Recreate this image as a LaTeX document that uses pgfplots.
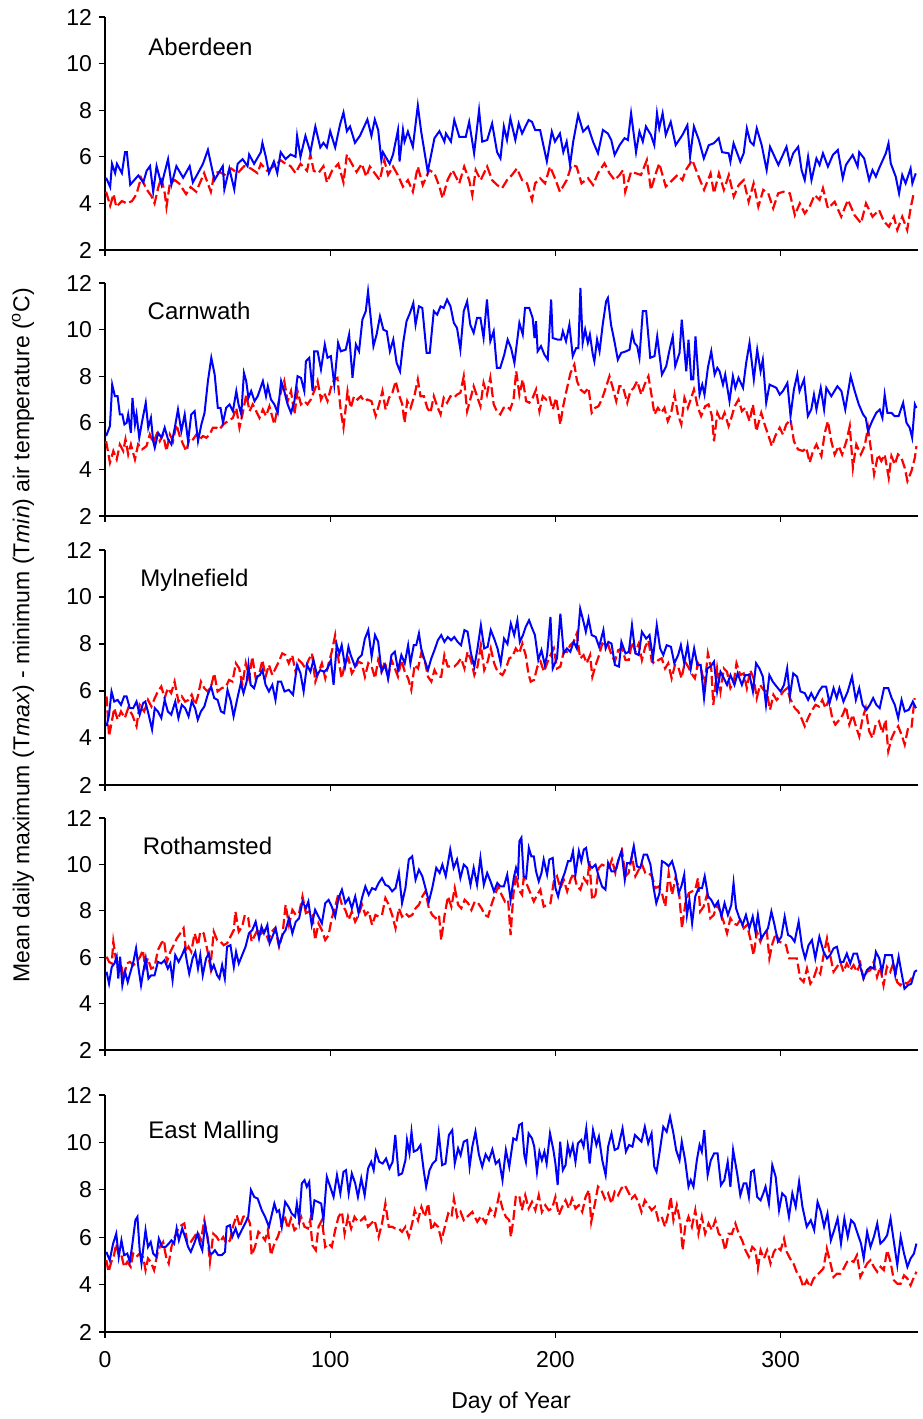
\documentclass[border=0pt]{standalone}
\usepackage{fontspec}
\setmainfont{Liberation Sans}
\usepackage{pgfplots}
\pgfplotsset{compat=1.18}
\pgfplotsset{
  panel/.style={
    scale only axis, width=406.5pt,
    xmin=0, xmax=361, ymin=2, ymax=12,
    xtick={0,100,200,300}, ytick={2,4,6,8,10,12},
    axis lines*=left, tick align=outside, major tick length=3pt,
    axis line style={line width=0.6pt, black},
    tick style={line width=0.6pt, black},
    tick label style={font=\fontsize{11.5}{13.8}\selectfont},
    /pgf/number format/assume math mode=true,
    xticklabel style={yshift=-3pt},
    anchor=north west,
  },
  tb/.style={draw=blue, line width=1pt, mark=none},
  tr/.style={draw=red, line width=1.1pt, mark=none, dash pattern=on 5pt off 2pt},
}
\tikzset{nm/.style={anchor=west, inner sep=0pt, font=\fontsize{12}{14}\selectfont}}
\begin{document}
\begin{tikzpicture}
\path[use as bounding box] (-52.5pt,0pt) rectangle (408.5pt,-709.5pt);

% ---------------- Aberdeen
\begin{axis}[panel, at={(0pt,-8.5pt)}, height=116.5pt, xticklabels={}]
\addplot[tr] coordinates {(0.5,4.5)(2.3,3.9)(3.8,4.4)(5,3.85)(7.5,4.1)(9.7,4.0)(12,4.1)(14,4.4)(16,5.1)(18.5,4.6)(20.7,4.3)(22,4.0)(23.7,4.7)(25,5.1)(26.6,4.4)(27.3,3.85)(28.8,4.85)(31,5.0)(33,4.85)(36,4.4)(38,4.7)(40.5,4.5)(42.7,5.0)(44,5.3)(47,4.5)(48.6,5.3)(50.8,5.35)(53.7,5.2)(56,5.5)(58.9,5.3)(61.8,5.6)(64.7,5.5)(67.7,5.3)(69.2,5.7)(72,5.4)(75,5.6)(78,5.85)(80.2,5.7)(82.4,5.6)(84.6,5.3)(86.8,5.7)(89.7,5.4)(91.2,6.1)(92.7,5.4)(94.8,5.3)(97,5.6)(98.5,4.9)(100.8,5.4)(103.6,5.7)(105.9,4.9)(107.4,6.1)(109.6,5.7)(111.7,5.35)(114,5.7)(116,5.15)(117.6,5.58)(119.8,5.29)(122,5.0)(124,5.86)(125.7,5.22)(127.9,5.58)(130,5.22)(132.3,4.72)(134.5,5.0)(136.7,4.5)(138.9,5.58)(141.1,4.79)(144,5.43)(146.3,5.29)(148.5,4.72)(149.9,4.22)(152.1,5.0)(154.3,5.43)(157.3,4.86)(159.5,5.58)(161.7,5.0)(163.1,4.36)(164.6,5.43)(166.8,5.0)(169.7,5.58)(171.9,5.0)(174.1,4.79)(176.3,4.65)(178.5,5.0)(180.7,5.22)(182.9,5.5)(185.2,5.0)(187.4,4.86)(189.6,4.15)(191,4.86)(193.2,5.08)(195.4,4.86)(197.6,5.58)(199.8,5.08)(202,4.5)(205,5.0)(207.2,5.65)(209.4,5.58)(211.6,4.86)(214.5,5.08)(216.7,4.79)(218.9,5.3)(221.8,5.72)(224,5.29)(226.3,5.0)(228.5,5.22)(230,5.43)(231,4.5)(233.6,5.36)(235.8,5.29)(238,5.22)(240.6,5.86)(242.4,4.58)(244.6,5.29)(246.1,5.72)(249,4.72)(251.2,4.93)(254.2,5.22)(256.4,5.0)(257.9,5.43)(260.8,5.86)(263,5.29)(266,4.58)(268.9,5.29)(270.4,4.43)(272.6,5.29)(274.8,4.58)(277,5.22)(279.2,4.29)(281.4,4.79)(283.6,5.0)(285.8,4.07)(288,4.86)(290.1,3.86)(292.3,4.58)(294.5,4.43)(296.7,3.79)(298.9,4.43)(301.2,4.5)(304.1,4.43)(306.3,3.5)(308.5,4.0)(310.7,3.57)(312.9,3.86)(315.1,4.36)(317.3,4.15)(318.8,4.65)(321,3.79)(324,4.07)(326.9,3.43)(329.9,4.15)(332.8,3.5)(335.7,3.15)(337.9,4.0)(340.8,3.43)(343.7,3.72)(345.9,3.22)(348.1,3.0)(350.3,3.43)(351.8,2.86)(354,3.43)(356.2,2.86)(357.7,3.79)(359.1,4.43)};
\addplot[tb] coordinates {(0.5,5.1)(2.3,4.7)(3.1,5.7)(4.5,5.3)(5.3,5.7)(7.5,5.3)(8.9,6.2)(9.7,6.2)(11.2,4.8)(14.8,5.2)(17,4.9)(18.5,5.4)(20,5.6)(21.4,4.5)(22.9,5.6)(25.1,4.8)(28,5.9)(29.5,4.8)(31.7,5.6)(34.7,5.1)(37.6,5.6)(39,4.9)(41.3,5.3)(43.5,5.7)(45.7,6.3)(48.6,5.0)(52.3,5.6)(53,4.6)(55.2,5.5)(57.4,4.6)(58.9,5.7)(61.1,5.9)(63.3,5.6)(64,6.1)(66.2,5.7)(69.2,6.2)(69.9,6.6)(71.4,6.0)(72.8,5.3)(75,5.8)(76.5,5.3)(78,6.2)(80.2,5.9)(82.4,6.1)(84.6,6.0)(85.3,6.9)(86.8,6.0)(89,6.9)(91.2,6.2)(93.4,7.3)(95.6,6.4)(97,6.6)(98.5,6.4)(100,7.1)(102.2,6.4)(104.4,7.4)(105.9,7.9)(107.4,7.1)(108.8,7.3)(111,6.6)(113.2,6.9)(116.5,7.6)(118.3,6.9)(119.8,7.6)(121.3,7.15)(122.7,5.86)(123.4,6.2)(126.4,5.7)(127.9,6.1)(130.1,7.15)(130.8,5.8)(132.3,7.15)(133,6.65)(134.5,7.08)(136.7,6.43)(138.9,8.2)(140.4,7.08)(143.3,5.36)(146.3,6.8)(148.5,7.1)(150.7,6.65)(151.4,7.0)(153.6,6.65)(155.1,7.58)(157.3,6.86)(160.2,6.86)(161.7,7.5)(163.9,6.15)(166.1,8.0)(167.5,6.65)(169.7,6.72)(171.9,7.43)(174.1,6.2)(175.6,5.93)(177.1,7.3)(178.5,6.72)(180,7.65)(182.2,6.72)(183.7,7.43)(185.2,7.0)(188.1,7.58)(189.6,7.5)(191,7.15)(193.2,7.15)(196.2,5.8)(198.4,7.08)(199.8,6.65)(202,7.0)(203.5,6.2)(205,6.65)(206.5,5.65)(207.9,6.65)(210.1,7.8)(212.3,7.08)(214.5,7.3)(216.7,6.65)(218.9,6.15)(221.1,7.15)(223.3,7.0)(224.8,6.72)(226.3,6.08)(228.5,6.5)(230.7,6.8)(232.2,6.72)(233.6,7.87)(235.8,6.2)(237.3,7.08)(238.8,6.65)(240.2,7.3)(242.4,6.94)(243.9,6.5)(245.1,7.87)(246.1,7.22)(247.6,7.87)(249,6.94)(251.2,7.5)(253.4,6.5)(256.4,6.94)(258.6,7.36)(259.8,6.0)(261.5,7.3)(263.7,6.72)(265.9,5.93)(268.1,6.5)(270.3,6.58)(272.5,6.8)(274,6.2)(276.9,6.15)(277.7,5.79)(279.1,6.58)(282.1,5.79)(283.6,6.15)(285,7.22)(286.5,6.65)(288,6.5)(289.4,7.22)(291.6,6.5)(293.8,5.43)(295.3,6.43)(299,5.65)(302.6,6.43)(304.1,5.72)(305.6,6.15)(307.8,6.43)(309.3,5.43)(310.7,5.0)(312.2,6.0)(313.7,5.0)(315.9,5.93)(317.3,5.65)(318.8,6.15)(321,5.58)(323.2,6.08)(325.4,6.29)(327.6,5.08)(329,5.65)(332,6.08)(334.2,5.58)(334.9,6.2)(337.1,5.93)(339.3,5.0)(340.8,5.43)(342.3,5.15)(343.7,5.5)(346.7,6.15)(347.9,6.58)(348.9,5.72)(351.1,5.15)(352.6,4.43)(354,5.22)(355.5,4.86)(357.7,5.5)(358.5,4.86)(360,5.29)};
\node[nm] at (rel axis cs:0.053,0.871) {Aberdeen};
\end{axis}

% ---------------- Carnwath
\begin{axis}[panel, at={(0pt,-141.5pt)}, height=116.5pt, xticklabels={}]
\addplot[tr] coordinates {(0.5,5.21)(2.2,4.29)(3.7,4.79)(5.2,4.43)(6.6,5.07)(8.1,4.79)(9.1,5.29)(10.3,4.64)(11.5,5.07)(13.3,4.43)(14.7,5.07)(16.5,4.86)(18.4,5.0)(19.9,5.5)(21.4,5.14)(22.9,5.5)(24.3,5.21)(25.8,5.5)(27.3,4.79)(28.8,5.5)(30.2,5.21)(31.7,5.93)(33.2,5.43)(34.7,5.07)(36.1,4.79)(37.6,5.36)(39.1,5.29)(40.6,5.5)(42,5.29)(43.5,5.43)(45,5.36)(46.5,5.5)(47.9,5.79)(49.4,5.79)(50.9,5.71)(52.4,5.93)(54.6,6.07)(56.8,6.21)(58.3,6.64)(59.7,5.79)(61.2,6.43)(62.7,7.21)(64.2,6.5)(65.6,6.79)(67.1,6.5)(68.6,6.21)(70.1,6.57)(71.5,6.29)(73,6.71)(75.2,5.93)(76.7,6.71)(78.2,7.36)(79.6,7.79)(81.1,6.93)(82.6,7.36)(84.1,6.36)(85.5,7.36)(87,6.79)(88.5,6.93)(89.9,6.79)(91.4,7.0)(92.9,7.36)(94.4,7.79)(95.9,7.0)(97.3,7.29)(98.8,6.93)(100.3,7.5)(101.8,7.86)(103.2,7.93)(104.7,6.5)(105.9,5.79)(107.7,7.36)(109.1,6.64)(110.6,7.14)(112.1,7.0)(113.6,7.14)(115,6.93)(116.5,7.0)(118.3,6.93)(120.2,6.29)(121.7,6.79)(123.2,7.36)(124.6,6.57)(126.1,7.07)(127.6,7.29)(129.1,7.79)(130.5,7.21)(132,6.79)(133,6.0)(134.2,6.93)(135.7,6.64)(137.5,7.21)(138.9,7.86)(140.1,7.14)(141.6,7.14)(143.1,6.64)(144.5,6.43)(146,7.14)(147.5,6.71)(149,6.36)(150.4,7.07)(151.9,6.86)(153.4,7.14)(154.9,7.07)(156.3,7.21)(157.8,7.29)(159.3,8.0)(160.8,6.5)(162.2,7.0)(163.7,7.57)(165.2,7.14)(166.7,6.71)(168.1,7.71)(169.6,7.21)(171.1,7.93)(172.6,6.79)(174,6.5)(175.5,6.36)(177,6.64)(178.5,6.71)(179.9,6.57)(181.4,7.0)(182.6,8.21)(184,7.21)(185.5,7.86)(187,6.93)(188.4,6.86)(189.9,7.07)(191.4,7.43)(192.9,6.5)(194.4,7.14)(195.9,7.0)(197.3,7.14)(198.8,6.57)(200.3,7.07)(202.2,5.93)(203.3,6.64)(204.7,7.29)(206.7,8.14)(208.4,8.5)(209.6,7.79)(211.1,7.43)(212.9,7.29)(214.7,7.5)(216.1,6.43)(217.6,6.64)(219.1,6.71)(220.6,7.0)(222.1,7.43)(224,8.0)(225.5,7.5)(227,6.93)(228.4,7.57)(229.9,7.57)(231.9,6.86)(233.3,7.36)(234.8,7.5)(236.3,7.79)(238.1,7.21)(239.6,7.64)(241.3,8.0)(242.5,7.29)(244,6.36)(245.5,6.64)(247,6.43)(248.4,6.64)(249.9,6.07)(251.4,6.43)(252.9,7.21)(254.4,6.36)(255.9,5.93)(257.3,7.07)(258.8,6.64)(260.3,7.07)(261.5,7.43)(263.3,6.64)(264.7,6.29)(266.5,6.71)(268,6.79)(269.5,6.29)(270.4,5.21)(271.9,6.43)(273.6,6.07)(275.1,6.43)(276.9,5.86)(278.1,6.21)(279.6,6.71)(281.3,7.0)(282.8,6.5)(284.3,6.64)(286.2,6.07)(287.7,6.79)(289.2,5.64)(291.4,6.43)(292.9,5.93)(294.4,5.5)(296.1,5.0)(297.6,5.43)(299.6,5.79)(301,5.5)(302.5,5.93)(304.4,6.14)(305.9,5.21)(307.7,4.86)(309.9,4.79)(311.4,4.93)(312.9,4.29)(314.4,4.79)(315.9,5.07)(318.1,4.57)(319.6,5.57)(321,6.07)(322.5,5.21)(324,4.64)(325.8,5.0)(327.3,4.64)(329.2,5.21)(330.7,5.86)(332.1,4.07)(333.6,5.07)(335.6,4.64)(337.3,5.0)(338.8,5.79)(340.3,4.71)(341.5,3.79)(343.3,4.64)(344.7,4.36)(346.2,4.64)(348,3.64)(349.2,4.57)(350.7,4.21)(352.1,4.64)(353.6,4.5)(355.1,4.07)(356.3,3.5)(358.1,3.93)(359.6,4.5)(360.3,5.0)};
\addplot[tb] coordinates {(0.5,5.43)(2.2,5.86)(3.2,7.64)(4.4,7.14)(5.6,7.14)(6.6,6.36)(7.7,6.36)(8.6,5.93)(9.6,6.0)(10.3,6.36)(11.5,5.57)(12.2,7.07)(13.3,5.93)(14,6.36)(15.2,5.36)(16.5,6.07)(18.1,6.86)(19.2,5.79)(20.4,6.21)(21.4,5.21)(22.1,4.93)(23.6,5.57)(25.1,5.36)(26.5,5.79)(28,5.29)(29.5,5.07)(31,5.79)(32.4,6.57)(33.9,5.64)(35.4,6.36)(36.9,5.21)(38.3,6.36)(39.8,6.5)(41.3,5.21)(42.8,5.93)(44.2,6.43)(45.7,7.79)(47.2,8.79)(48.7,8.07)(50.1,6.64)(51.3,6.64)(52.4,6.0)(53.8,6.64)(55.3,6.79)(56.8,6.5)(58.3,7.36)(59.3,6.79)(60.5,6.36)(61.7,8.14)(62.7,7.79)(63.7,7.07)(64.9,7.36)(66.4,6.93)(67.8,7.14)(70.1,7.79)(71.5,7.14)(72.3,7.57)(73.7,7.0)(75.2,6.79)(76.7,6.43)(78.2,7.79)(79.6,7.36)(81.1,6.79)(82.6,6.43)(84.1,6.93)(85.5,8.0)(87,7.93)(88.5,7.36)(89.2,8.64)(90.7,8.79)(92.2,7.36)(92.9,9.07)(94.4,9.07)(95.9,8.29)(97.6,9.36)(98.8,8.79)(100.3,8.86)(101.8,7.64)(103.5,9.43)(104.7,9.07)(106.9,9.14)(108.4,9.79)(109.9,7.93)(111.4,9.36)(112.8,9.07)(114.3,10.43)(115.8,10.79)(116.8,11.64)(118,10.5)(119.2,9.29)(120.6,9.79)(122.1,10.57)(123.6,10.0)(125.1,9.93)(126.5,9.07)(128,9.57)(129.5,8.57)(131,8.21)(132.4,9.43)(133.9,10.36)(135.4,10.71)(136.9,11.14)(137.9,10.21)(139.4,11.0)(140.9,10.93)(142.8,9.0)(144.2,9.0)(146,10.79)(147.5,10.64)(149,11.0)(150.4,10.93)(151.9,11.29)(153.4,11.0)(154.9,10.29)(156.3,10.07)(157.8,9.14)(159.3,10.79)(160.8,11.21)(162.2,10.21)(163.7,9.86)(165.2,10.5)(166.7,10.5)(168.1,9.64)(169.6,11.29)(171.1,9.5)(172.6,9.93)(174,8.36)(175.5,8.36)(177.3,8.93)(178.8,9.57)(180.3,9.21)(181.8,8.57)(184,10.29)(185.5,9.79)(186.5,10.93)(188.4,10.93)(189.9,10.5)(190.7,9.64)(191.4,10.36)(192.1,9.07)(193.6,9.29)(195.1,8.93)(196.6,8.71)(198.1,11.29)(198.8,9.64)(201,9.57)(202.5,9.57)(203.3,9.93)(204.7,9.5)(206.2,10.21)(207.7,8.86)(209.2,9.21)(210.2,9.21)(211.1,11.79)(212.1,9.43)(213.2,10.0)(214.4,9.43)(215.3,9.79)(216.6,8.93)(217.3,8.64)(218.5,9.57)(219.6,9.07)(221,10.21)(222.5,11.21)(223.3,11.36)(224.7,10.21)(226.2,9.5)(227.7,8.71)(229.2,9.0)(231.4,9.07)(232.9,9.14)(234.1,9.86)(235.1,9.43)(236.3,9.29)(237.3,8.79)(238.8,10.79)(240.3,10.79)(242.1,8.79)(244,8.86)(245.2,9.71)(247.3,8.07)(249.2,8.43)(250.7,9.14)(252.1,9.71)(253.2,8.43)(255.1,9.0)(256.1,10.43)(258.1,8.21)(259.1,9.57)(260.3,7.86)(261.2,7.86)(262.2,9.71)(264,7.21)(265.2,7.64)(266.2,7.21)(267.7,8.36)(269.2,9.07)(270.7,8.07)(271.9,8.36)(272.9,8.21)(274.4,7.64)(275.4,8.07)(277.3,6.93)(278.8,8.0)(279.9,7.5)(281.3,7.93)(283.3,7.5)(284.7,8.57)(286.2,9.43)(288.1,7.86)(289.6,9.14)(291.1,8.21)(292.1,8.71)(293.6,6.86)(295.1,7.64)(296.6,7.57)(298.1,7.5)(299.6,7.21)(301,7.36)(303,7.71)(304.4,6.29)(305.9,7.43)(307.4,8.07)(308.4,7.36)(310.4,7.86)(312.1,6.29)(313.6,6.57)(314.8,7.21)(315.9,6.57)(317.8,7.5)(319.3,6.57)(320.3,7.5)(322.5,7.14)(325.2,7.57)(327,7.36)(328.7,6.57)(329.9,7.29)(331.1,8.0)(332.9,7.36)(334.7,6.79)(336.6,6.36)(337.8,6.21)(338.8,5.64)(340.6,6.07)(342.5,6.43)(344,6.57)(345.2,6.21)(346.2,7.21)(347.4,6.43)(349.2,6.43)(350.6,6.29)(352.4,6.29)(354.4,6.86)(355.9,6.0)(357.3,5.79)(358.4,5.36)(359.6,6.79)(360.3,6.64)};
\node[nm] at (rel axis cs:0.052,0.88) {Carnwath};
\end{axis}

% ---------------- Mylnefield
\begin{axis}[panel, at={(0pt,-275pt)}, height=117.5pt, xticklabels={}]
\addplot[tr] coordinates {(0.7,5.77)(1.8,4.07)(2.9,4.64)(4.1,5.27)(5.6,4.78)(7.1,5.13)(8.8,4.85)(10.3,5.27)(12.1,4.99)(14,4.5)(15.4,5.41)(17.4,5.13)(19.1,5.62)(20.6,5.34)(22.1,5.7)(23.5,5.98)(25,6.19)(26.5,5.7)(27.9,6.12)(29.4,5.91)(30.9,6.4)(32.6,5.55)(34.1,5.77)(35.6,5.55)(37.1,5.62)(38.5,5.84)(40,5.41)(41.2,5.77)(42.6,6.4)(44.1,6.12)(45.6,5.98)(47.1,6.19)(48.5,6.75)(50,5.98)(51.8,6.12)(53.7,6.19)(55.1,6.47)(56.6,6.4)(58.1,7.18)(59.6,6.96)(61,6.26)(62.5,7.18)(64,6.54)(65.4,7.46)(66.9,6.54)(68.4,6.68)(69.9,7.32)(71.3,6.61)(72.8,7.11)(74.3,6.68)(75.7,6.96)(77.2,7.25)(78.7,7.6)(80.1,7.53)(81.6,7.18)(83.1,7.53)(84.6,6.82)(86,7.32)(87.5,7.18)(89,6.96)(90.4,7.32)(91.9,7.6)(93.4,6.4)(94.9,6.82)(96.3,7.18)(97.8,6.54)(99.3,7.18)(100.7,7.67)(102.2,8.38)(103.7,7.32)(105.1,6.54)(106.6,7.18)(108.1,7.39)(109.6,6.75)(111,6.96)(112.5,7.25)(114,7.18)(115.4,6.61)(116.9,7.18)(118.4,7.04)(119.9,6.54)(121.3,7.32)(122.8,6.82)(124.3,7.25)(125.7,6.54)(127.2,7.32)(128.7,6.96)(130.1,6.61)(131.6,7.32)(133.1,6.82)(134.6,6.54)(136,6.05)(137.5,7.11)(139,6.96)(140.4,7.6)(141.9,7.32)(143.4,6.61)(144.9,6.4)(146.3,6.89)(147.8,6.61)(149.3,6.61)(150.7,7.53)(152.2,7.04)(153.7,7.04)(155.1,7.04)(156.6,7.18)(158.1,7.39)(159.6,6.96)(161,7.67)(162.5,7.32)(164,6.68)(165.4,7.04)(166.9,7.95)(168.4,6.89)(169.9,7.25)(171.3,7.81)(172.8,7.18)(174.3,6.82)(176.5,6.68)(178,6.96)(179.5,7.39)(180.9,7.46)(182.4,7.81)(183.9,7.6)(185.3,8.02)(186.8,7.53)(188,6.75)(189,6.4)(190.5,6.47)(192,7.04)(193.4,7.25)(194.9,6.82)(196.3,7.18)(197.8,7.53)(199.3,7.81)(200.7,6.96)(202.2,7.04)(203.7,7.67)(205.1,7.67)(206.6,7.95)(208.1,8.09)(209.5,8.45)(211,7.39)(212.5,7.53)(213.9,7.18)(215.4,7.53)(216.4,6.61)(217.9,7.11)(219.4,7.53)(220.8,8.02)(222,7.95)(223.5,7.95)(224.9,7.53)(226.4,7.25)(227.9,7.74)(229.6,7.81)(231.1,7.32)(232.6,7.32)(234,8.09)(235.5,7.67)(237,8.02)(238.4,7.32)(239.9,7.88)(241.3,8.16)(242.8,7.25)(244.3,7.18)(245.7,7.32)(247.2,7.39)(248.7,6.96)(250.1,7.18)(251.6,6.54)(253.1,7.11)(254.5,7.04)(256,6.54)(257.5,7.25)(258.9,7.04)(260.4,6.75)(261.9,6.54)(263.3,7.18)(264.8,6.89)(266.3,6.26)(267.7,7.6)(269.2,6.96)(270.1,5.41)(271.8,6.96)(273.3,5.98)(274.8,6.96)(276.2,6.82)(277.7,6.12)(279.2,6.4)(280.4,7.18)(282.1,6.68)(283.6,6.75)(285,6.12)(286.5,6.89)(288,6.54)(289.4,5.7)(290.9,6.26)(292.4,6.05)(293.8,5.98)(295.3,5.2)(296.8,5.84)(298.2,5.62)(299.7,5.77)(301.2,5.98)(302.9,6.12)(304.1,5.7)(306.3,5.27)(307.8,5.13)(309.2,4.85)(310.7,4.5)(312.2,4.85)(313.6,5.13)(315.5,5.41)(317,5.34)(318.5,5.62)(319.9,5.27)(321.4,5.62)(322.9,4.85)(324.3,4.57)(326.1,4.78)(327.6,4.99)(329,5.34)(330.5,4.57)(332,4.99)(333.4,4.5)(334.9,4.07)(336.4,4.85)(337.8,5.27)(339.3,4.29)(340.8,4.0)(342.2,4.57)(343.7,4.71)(345.2,4.21)(346.6,4.78)(347.8,3.44)(349.3,4.0)(350.7,4.29)(352.2,4.5)(353.7,4.14)(355.1,3.72)(356.6,4.43)(358.1,4.43)(359.5,5.7)};
\addplot[tb] coordinates {(0.7,4.5)(1.8,4.99)(2.9,5.98)(4.1,5.55)(5.6,5.62)(7.1,5.41)(8.5,5.77)(9.6,5.77)(11,5.27)(12.5,5.27)(14,5.55)(15.4,4.99)(16.9,5.48)(17.9,5.55)(19.4,4.99)(20.9,4.36)(22.1,5.27)(23.5,5.13)(25,4.85)(26.5,5.62)(27.9,5.13)(29.4,4.99)(31.2,5.55)(32.6,4.85)(34.1,5.41)(35.6,5.27)(37.1,4.92)(38.5,5.55)(40,5.27)(41.2,4.78)(42.6,5.13)(44.1,5.34)(45.6,5.84)(47.1,6.19)(48.5,5.7)(50,5.62)(51.5,5.13)(52.9,5.06)(54.4,6.05)(55.9,5.55)(57.1,4.92)(58.8,5.7)(60.3,6.33)(61.5,5.91)(62.9,6.4)(63.7,7.11)(64.7,6.26)(66.2,6.12)(67.6,6.61)(68.8,6.68)(69.9,6.89)(71.3,6.26)(72.8,5.98)(74.3,6.26)(75.7,5.62)(76.8,6.4)(78.2,6.4)(79.7,5.98)(81.6,6.05)(83.5,5.84)(85.3,7.11)(86.8,6.75)(88.2,5.98)(89.7,7.11)(91.2,6.82)(92.6,7.32)(94.1,6.68)(95.6,6.89)(97.4,6.82)(98.8,6.96)(100.3,7.32)(101.5,6.26)(102.9,7.95)(104.1,7.6)(105.1,7.95)(106.6,7.04)(108.1,7.88)(109.1,7.53)(111,7.04)(112.5,7.39)(114,7.53)(115.4,8.23)(116.9,8.59)(118.4,7.46)(119.9,8.38)(121.3,8.09)(122.8,6.82)(124.3,7.11)(125.7,6.54)(127.2,7.53)(128.7,7.67)(130.1,6.89)(131.6,7.53)(133.1,7.18)(134.6,7.95)(135.6,7.18)(137.1,7.95)(138.2,7.95)(139.4,8.45)(140.4,7.81)(141.9,7.32)(143.4,6.89)(144.9,7.39)(146.3,7.74)(147.8,8.16)(149.3,8.38)(150.7,8.09)(152.2,8.3)(153.7,8.16)(155.1,8.3)(156.6,8.09)(158.1,7.95)(159.6,8.59)(161,8.52)(162.5,7.6)(164,7.04)(165.4,7.81)(166.9,8.8)(168.4,7.81)(169.9,7.88)(171.3,8.59)(172.8,8.23)(174.3,7.81)(175.7,7.18)(177.2,8.23)(178.7,8.0)(180.2,8.87)(181.7,8.38)(183.1,9.01)(184.2,8.09)(185.6,8.38)(186.8,8.73)(188.3,9.01)(189.4,8.73)(190.9,8.38)(192.4,7.32)(193.8,7.74)(195.3,7.11)(196.3,7.53)(197.8,9.15)(198.8,6.96)(200.7,7.39)(202.2,9.29)(203.7,7.6)(205.1,7.81)(206.6,7.67)(208.1,8.09)(209.5,7.81)(211,9.5)(212.5,8.94)(213.5,8.52)(214.7,9.08)(216.1,8.38)(217.9,8.3)(219.4,7.88)(221.3,8.59)(222.3,7.81)(223.5,8.09)(224.9,8.02)(226.4,7.11)(228.2,7.04)(229.3,8.09)(231.1,7.6)(232.6,7.67)(234,8.8)(235.5,7.6)(237,7.53)(238.4,8.52)(240.3,8.23)(241.8,8.38)(243.3,7.39)(245,8.8)(246.5,7.81)(247.9,7.53)(249.4,7.95)(251.3,7.88)(252.8,7.18)(254.5,7.53)(255.7,7.95)(257.2,7.18)(258.7,7.95)(260.1,6.96)(261.6,7.81)(263,7.11)(264.5,7.11)(266,5.7)(267.4,6.96)(268.9,7.04)(270.4,7.25)(271.8,5.98)(273.3,6.82)(274.8,6.54)(276.2,6.26)(277.7,6.68)(279.5,6.26)(280.9,6.75)(282.8,6.26)(284.3,6.68)(286.2,6.68)(287.7,5.98)(289.1,7.18)(290.6,6.96)(292.1,6.61)(293.5,5.41)(295,6.68)(296.5,6.4)(298.2,6.19)(300,5.98)(301.5,6.26)(302.9,6.96)(304.1,5.77)(305.6,6.75)(307.3,6.61)(308.8,5.98)(310.7,5.91)(312.2,5.62)(313.6,5.91)(315.1,5.62)(317,5.98)(318.5,6.19)(320.2,6.19)(321.7,5.48)(323.5,6.12)(324.9,5.7)(326.1,6.12)(327.9,5.55)(329.8,5.98)(331.7,6.61)(333.4,5.62)(334.9,6.12)(336.4,5.41)(338.1,5.2)(339.6,5.41)(341.1,5.7)(342.5,5.41)(344,5.27)(345.9,6.12)(347.8,6.12)(349.3,5.7)(350.7,5.41)(352.2,4.85)(353.7,5.62)(355.1,5.13)(356.9,5.2)(358.7,5.55)(360.1,5.27)};
\node[nm] at (rel axis cs:0.043,0.872) {Mylnefield};
\end{axis}

% ---------------- Rothamsted
\begin{axis}[panel, at={(0pt,-409pt)}, height=116pt, xticklabels={}]
\addplot[tr] coordinates {(0.7,6.02)(1.8,5.8)(3,5.73)(3.7,6.67)(4.8,5.95)(5.9,5.44)(7.1,5.73)(8.2,5.08)(9.7,5.73)(11.1,5.8)(12.6,5.66)(14.1,5.8)(15.6,6.02)(16.8,6.31)(17.8,5.58)(19,5.95)(20.5,5.51)(22,5.58)(23.5,6.31)(25,6.6)(26.2,6.74)(27.5,5.8)(29,6.23)(30.5,6.52)(31.9,6.81)(33.4,7.03)(34.9,7.25)(36,6.23)(37.1,6.45)(38.3,6.23)(39.8,7.03)(41.3,6.52)(42.3,7.1)(43.8,7.03)(45.3,6.38)(46.8,5.58)(48.3,7.1)(49.8,6.74)(51.3,6.67)(52.7,6.52)(54.2,6.6)(55.7,6.88)(57.2,7.17)(57.9,7.97)(59.4,7.1)(60.9,7.32)(62.1,7.82)(63.6,7.68)(65.1,6.67)(66.6,6.96)(68.1,7.25)(69.5,7.03)(71,7.17)(72.5,6.74)(74,7.1)(75.5,7.25)(77.3,6.45)(78.8,6.96)(80.2,8.26)(81.7,7.39)(83.2,8.04)(84.7,7.82)(86.2,7.9)(87.7,8.62)(89.2,7.9)(90.6,7.97)(92.1,7.82)(93.3,6.74)(94.8,7.46)(96.3,7.17)(97.8,6.74)(99.3,6.96)(100.7,7.68)(102.2,8.18)(103.7,8.76)(105.2,8.26)(106.7,8.04)(108.2,7.61)(109.6,7.97)(111.1,7.53)(112.6,7.82)(114.1,8.26)(115.6,7.82)(117.1,7.97)(118.6,7.39)(120.1,7.82)(121.5,7.75)(123,7.82)(124.5,8.55)(126,8.26)(127.5,7.82)(129,7.25)(130.5,8.11)(131.9,7.75)(133.4,7.9)(134.9,7.75)(136.4,7.82)(137.9,8.11)(139.4,8.26)(140.9,8.62)(142.3,8.84)(143.8,8.11)(145.3,7.82)(146.8,7.68)(148.3,7.82)(149.3,6.74)(150.8,7.82)(152.3,8.62)(153.8,8.18)(155.3,8.98)(156.8,8.26)(158.2,8.11)(159.7,8.47)(161.2,8.33)(162.7,8.04)(164.2,8.4)(165.7,8.33)(167.2,8.11)(168.6,7.82)(170.1,7.75)(171.6,8.26)(173.1,8.69)(174.6,9.05)(176.1,8.69)(177.6,8.4)(179,8.47)(180.1,6.96)(181.3,8.69)(182.5,9.56)(183.7,8.91)(185.2,8.69)(185.9,9.41)(187.4,9.12)(188.9,8.76)(190.4,8.4)(191.9,8.69)(193.3,8.91)(194.8,8.18)(196.3,8.26)(197.8,8.33)(199.3,9.27)(200.7,9.49)(202.2,8.98)(203.7,9.34)(205.2,8.84)(206.7,9.34)(208.1,9.63)(209.6,9.05)(211.1,8.91)(212.6,9.41)(214.1,9.2)(215.1,10.14)(216.3,8.47)(217.8,8.69)(219.2,9.85)(220.7,9.99)(222.2,9.92)(223.7,9.85)(225.1,10.21)(226.6,9.63)(228.1,10.21)(229.6,10.57)(231.1,9.49)(232.5,9.63)(234,10.35)(235.5,9.49)(237,9.77)(238.5,9.99)(239.9,9.63)(241.4,9.63)(242.9,9.49)(244.4,8.98)(245.9,9.05)(247.3,8.76)(248.8,8.18)(250.3,9.63)(251.8,8.69)(253.3,9.41)(254.7,9.05)(256.2,7.25)(257.7,8.33)(259.2,8.76)(260.7,8.84)(262.1,8.91)(263.3,9.41)(264.3,7.97)(265.8,8.18)(267.3,8.69)(268.8,7.68)(270.3,7.82)(271.7,8.26)(273.2,7.97)(274.7,7.53)(276.2,7.03)(277.7,7.68)(279.1,7.46)(280.6,7.39)(282.1,7.61)(283.6,7.25)(285.1,7.39)(286.5,6.81)(288,6.09)(289.5,7.1)(291,6.67)(292.5,7.03)(293.9,7.1)(295,5.95)(296.4,6.6)(297.9,7.03)(299.4,6.67)(300.9,6.6)(302.4,6.52)(303.8,5.95)(305.3,5.95)(307.2,5.95)(308.7,5.08)(310.2,4.93)(311.7,5.51)(313.2,4.86)(314.6,5.08)(316.1,5.51)(317.6,5.29)(319.1,6.09)(320.6,6.81)(322,6.09)(323.5,5.37)(325,5.58)(326.5,5.8)(327.9,5.37)(329.4,5.73)(330.9,5.44)(332.4,5.66)(333.9,5.37)(335.4,5.73)(336.8,5.08)(338.3,5.37)(339.8,5.44)(341.3,5.8)(342.8,5.15)(344.2,5.58)(345.7,4.79)(347.2,5.58)(348.7,5.37)(350.2,5.8)(351.7,4.93)(353.1,4.79)(354.6,4.93)(356.1,4.86)(357.6,5.01)(359,5.22)};
\addplot[tb] coordinates {(0.7,5.37)(1.8,4.86)(3,5.58)(4.2,5.73)(5.2,6.02)(5.9,5.08)(6.7,6.02)(7.7,4.79)(8.9,5.37)(10.1,4.93)(11.1,5.29)(12.6,5.8)(13.8,6.38)(14.9,5.51)(16,4.79)(17.1,5.44)(18.1,5.95)(19.3,5.08)(20.5,5.22)(22,5.22)(23.5,5.8)(25,5.73)(26.4,5.87)(27.9,5.51)(29,5.73)(30,5.01)(31.2,6.09)(32.7,5.8)(34.2,6.09)(35.4,6.38)(36.4,5.8)(37.4,5.29)(38.9,5.95)(40.1,6.23)(41.3,5.51)(42.3,6.09)(43.4,5.22)(44.9,5.95)(46.1,6.16)(47.3,5.44)(48.3,5.66)(49.8,5.22)(50.8,5.08)(52,5.66)(53.2,5.08)(54.2,6.45)(55.7,6.52)(57.2,5.58)(58.2,6.23)(59.4,5.73)(60.9,6.09)(62.4,6.45)(63.9,7.03)(65.4,7.17)(66.9,7.53)(68.4,6.81)(69.5,7.32)(70.6,7.03)(72.1,7.39)(73.1,6.6)(74.3,6.88)(75.8,7.25)(77.3,6.52)(78.8,6.96)(80.2,7.17)(81.7,7.68)(83.2,7.03)(84.7,7.53)(86.2,7.68)(87.7,8.4)(89.2,8.11)(90.3,8.4)(91.8,7.39)(93.3,8.04)(94.8,7.75)(96.3,7.46)(97.8,8.33)(99.3,8.47)(100.7,8.18)(102.2,7.75)(103.7,8.55)(105.2,8.91)(106.7,8.33)(108.2,8.55)(109.6,8.11)(111.1,8.62)(112.6,7.9)(114.1,8.55)(115.6,9.05)(117.1,8.69)(118.6,8.98)(120.1,8.91)(121.5,9.2)(123,9.41)(124.5,9.12)(126,9.05)(127.5,8.84)(129,8.98)(130.5,9.63)(131.9,8.33)(133.4,8.98)(134.9,10.21)(136.4,10.35)(137.9,9.34)(139.4,9.77)(140.9,9.49)(142.3,8.98)(143.8,8.4)(145.3,8.98)(147.1,9.85)(148.6,9.63)(149.8,9.99)(151.3,9.49)(153.3,10.64)(154.8,9.85)(156.3,10.21)(157.8,9.41)(159.3,9.99)(160.8,9.85)(162.3,9.12)(163.7,9.85)(165.2,9.12)(166.7,10.28)(168.2,9.12)(169.7,9.63)(171.2,9.27)(172.7,8.84)(174.2,9.2)(175.6,9.05)(177.1,9.05)(178.6,9.56)(180.1,8.47)(181.5,9.41)(182.5,9.85)(183.4,9.56)(184,11.0)(184.9,11.15)(185.9,9.49)(187,9.41)(188.2,10.71)(189.3,10.35)(190.4,10.35)(191.4,9.7)(192.6,9.27)(193.8,9.63)(194.8,10.21)(196.3,9.56)(197.3,10.21)(198.8,10.28)(200,8.98)(201.2,8.62)(202.7,9.27)(204.1,9.63)(205.6,10.14)(206.7,10.14)(207.8,10.57)(208.9,9.56)(210.4,10.57)(211.5,10.14)(212.6,10.64)(213.6,10.71)(214.8,9.99)(216.3,9.85)(217.8,9.99)(219.2,9.49)(220.7,9.05)(222.2,8.91)(223.4,10.06)(224.9,9.7)(226.6,9.7)(227.8,10.14)(229.3,10.57)(230.8,9.34)(231.8,10.06)(233.3,10.06)(234.8,10.79)(236.2,9.92)(237.7,9.85)(239.2,10.42)(240.7,10.42)(242.2,9.99)(243.6,8.98)(244.8,8.33)(246.2,8.76)(247.3,10.14)(248.8,10.06)(250.3,9.92)(251.8,10.14)(253.3,9.63)(254.7,8.76)(255.9,9.05)(257.2,9.56)(258.4,7.82)(259.5,8.47)(260.7,7.46)(262.1,8.62)(263.6,8.98)(265.1,8.98)(266.3,9.49)(267.8,8.62)(269.2,8.47)(270.7,8.18)(272.2,8.4)(273.7,7.75)(275.1,8.33)(276.6,7.82)(278.1,8.26)(279.1,9.2)(280.2,8.11)(281.7,7.68)(283.1,7.39)(284.6,7.82)(286.1,7.25)(287.6,7.75)(288.8,7.1)(289.9,7.82)(291.4,6.81)(292.9,7.03)(294.4,7.25)(295.9,7.97)(297.3,7.39)(298.8,6.67)(300.3,6.88)(301.8,7.75)(303.3,6.96)(304.7,6.88)(306.2,6.67)(308,7.53)(309.5,6.45)(310.9,5.95)(312.4,6.52)(313.9,6.74)(315.4,5.95)(317.2,6.88)(319.1,6.23)(320.6,5.95)(322,6.09)(323.5,6.38)(325,6.45)(326.5,5.8)(327.9,5.8)(329.4,6.16)(330.9,5.73)(332.4,6.16)(333.9,6.16)(335.4,5.58)(336.8,5.08)(338.3,5.44)(339.8,5.58)(341.3,5.51)(342.3,6.23)(343.8,5.95)(345,5.37)(346.4,6.09)(347.9,6.09)(349.4,6.09)(350.9,5.22)(352.4,6.02)(353.6,5.37)(355,4.64)(356.5,4.79)(358,4.86)(359.5,5.37)(360.5,5.44)};
\node[nm] at (rel axis cs:0.046,0.879) {Rothamsted};
\end{axis}

% ---------------- East Malling
\begin{axis}[panel, at={(0pt,-547.5pt)}, height=118.5pt]
\addplot[tr] coordinates {(0.6,5.03)(1.6,4.54)(2.8,4.96)(4,5.24)(5,5.73)(6.1,5.24)(7.3,5.24)(8.5,4.75)(9.9,4.96)(11.4,4.75)(12.5,5.31)(13.9,5.17)(15.4,5.31)(16.9,5.17)(18,4.61)(19.1,5.1)(20.3,4.96)(21.8,4.61)(23.3,5.31)(24.3,5.59)(25.8,5.8)(27.3,5.1)(28.3,4.89)(29.5,5.59)(31,6.01)(32.5,6.37)(34,6.51)(35.2,6.58)(36.6,5.73)(38.1,5.8)(39.6,6.01)(41.1,6.23)(42.6,5.87)(44.1,6.72)(45.5,6.01)(46.6,4.96)(48.1,6.15)(49.6,6.01)(51,5.8)(52.5,6.01)(54,5.73)(55.5,5.87)(57,6.51)(58.5,6.93)(59.9,6.44)(61.4,6.86)(62.9,6.93)(64.4,6.58)(65.1,5.24)(66.6,5.59)(68.1,6.23)(69.6,6.08)(71.1,5.87)(72.3,6.3)(73.7,5.24)(75.2,5.73)(76.7,6.01)(78.2,6.44)(79.7,6.93)(81.2,6.37)(82.6,6.79)(84.1,6.3)(85.6,6.44)(87.1,6.86)(88.6,6.44)(90.1,6.37)(91.1,6.72)(92.1,5.66)(93.6,5.45)(94.8,6.44)(96.3,6.72)(97.8,5.59)(99.3,5.73)(100.7,5.59)(102.2,6.3)(103.7,6.86)(105.2,7.07)(106.4,6.15)(107.9,6.86)(109.3,6.37)(110.8,6.86)(112.3,6.65)(113.8,6.72)(115.3,6.86)(116.8,6.44)(118.2,6.58)(119.7,6.72)(121.5,6.01)(123,6.58)(124.5,7.42)(126,6.44)(127.4,6.44)(128.9,6.37)(130.4,6.37)(131.9,6.23)(133.4,6.44)(134.9,6.01)(136.4,6.58)(137.5,7.14)(139,6.72)(140.5,7.28)(142,6.86)(143.5,7.42)(145,6.3)(146.4,6.58)(147.9,6.44)(149.4,5.87)(150.9,6.44)(152.4,7.0)(153.9,6.86)(154.9,7.63)(156.4,6.86)(157.9,7.07)(159.3,6.72)(160.8,6.86)(163.1,7.07)(165.3,6.65)(167,6.9)(169,6.6)(171,7.2)(173,6.9)(175,7.77)(176.5,7.21)(178,6.86)(179.5,6.72)(180.2,6.01)(181.3,6.72)(182.4,7.7)(183.9,7.77)(185.1,7.14)(186.6,7.77)(188.1,7.21)(189.6,7.49)(191.1,7.14)(192.6,7.77)(194,7.07)(195.5,7.35)(197,7.14)(198.5,7.21)(200,7.7)(201.5,6.93)(203,7.28)(204.5,7.56)(206,7.21)(207.4,7.63)(208.9,7.21)(210.4,7.35)(211.9,7.07)(213.4,7.7)(214.9,7.99)(215.9,6.65)(217.4,7.35)(218.9,8.13)(220.4,7.99)(221.9,7.63)(223.4,7.85)(224.9,7.42)(226.3,7.92)(227.8,7.77)(229.3,8.06)(230.8,8.2)(232.3,7.92)(233.8,7.63)(235.3,7.77)(236.8,7.49)(238.2,7.07)(239.7,7.56)(241.2,7.35)(242.7,7.14)(244.2,7.28)(245.7,6.72)(247.2,6.86)(248.7,6.44)(250.1,7.0)(251.2,7.7)(252.4,6.72)(253.9,7.35)(255.4,6.65)(256.5,5.45)(257.6,6.44)(259.1,6.86)(260.6,6.44)(262.1,7.14)(263.5,6.15)(265,6.86)(266.5,6.15)(268,6.58)(269.5,6.3)(271,6.72)(272.5,6.15)(274,6.01)(275.4,5.45)(276.9,6.15)(278.4,6.15)(279.9,6.58)(281.4,6.15)(282.9,5.87)(284.4,5.45)(285.9,5.17)(287.4,5.59)(288.8,5.45)(289.9,4.68)(291.1,5.45)(292.6,5.1)(294,5.45)(295.5,4.89)(297,5.38)(298.5,5.59)(300,5.45)(301.5,5.94)(302.7,5.38)(304.2,5.1)(305.7,4.89)(307.1,4.54)(308.6,4.32)(310.1,3.9)(311.6,4.18)(313.1,3.9)(314.6,4.25)(316.1,4.39)(317.6,4.54)(319,4.68)(320.5,5.52)(322,4.96)(323.5,4.32)(325,4.46)(326.5,4.46)(328,4.68)(329.5,4.96)(331,5.03)(332.4,4.96)(333.9,5.24)(335.4,4.32)(336.9,4.61)(338.4,4.89)(339.9,5.03)(341.4,4.75)(342.9,4.54)(344.4,4.75)(345.8,4.61)(347.3,5.45)(348.8,4.96)(350.3,4.18)(351.8,4.04)(353.3,4.04)(354.8,4.39)(356.3,4.25)(357.7,3.97)(359.2,4.32)(360.3,4.54)};
\addplot[tb] coordinates {(0.6,5.38)(2.1,5.03)(3.6,5.73)(5,6.15)(6.1,5.17)(7.3,5.87)(8.5,5.24)(9.9,5.31)(11,4.96)(12,5.59)(13.5,6.72)(14.4,6.86)(15.4,5.45)(16.2,4.89)(18,6.3)(19.1,5.59)(20.3,5.8)(21.4,5.31)(22.8,5.17)(23.9,5.94)(25.4,5.59)(26.9,5.59)(28.3,5.73)(29.5,5.87)(30.7,5.73)(31.8,6.37)(32.8,5.87)(34.3,6.37)(35.8,5.94)(36.9,5.59)(38.1,5.38)(39.6,5.73)(41.1,6.15)(42.1,5.73)(43.2,5.45)(44.4,6.51)(45.5,6.01)(46.6,5.31)(47.6,5.31)(48.8,5.45)(50.3,5.24)(51.8,5.24)(53.3,5.38)(54,6.44)(55.5,6.51)(56.5,6.01)(58,6.37)(59.2,6.01)(60.7,6.3)(62.2,6.58)(63.6,6.86)(64.8,7.99)(66.3,7.7)(67.8,7.63)(69.6,7.14)(71.1,6.86)(72.8,6.44)(74,6.93)(75.2,7.42)(76.3,7.07)(77.3,7.14)(78.5,6.44)(80,7.49)(81.5,7.28)(82.9,7.0)(84.4,6.86)(85.2,7.42)(86.2,6.72)(87.4,8.27)(88.6,8.41)(89.6,8.13)(90.7,8.34)(91.8,6.72)(93,7.56)(94.5,7.49)(96,7.42)(97,6.72)(98.5,8.55)(100,8.13)(101.5,7.7)(103,8.62)(104.5,7.85)(105.9,8.76)(107,8.83)(108.2,7.85)(109.6,8.69)(111.1,8.27)(112.3,7.7)(113.8,8.48)(115.3,7.77)(116.8,8.9)(118.2,9.18)(119.3,8.83)(120.3,9.61)(121.8,9.18)(123.3,9.11)(124.8,9.32)(126.3,8.9)(127.7,9.18)(128.9,10.31)(130.4,8.62)(131.9,8.69)(133.4,9.25)(134.1,10.1)(135.2,9.54)(136.1,10.45)(137.1,9.61)(138.6,9.68)(140.1,9.89)(141.5,8.83)(142.6,8.13)(144.1,8.83)(145.5,9.11)(147,9.25)(148.2,10.38)(149.7,9.04)(151.2,9.11)(152.7,10.31)(154.2,10.52)(155.3,9.11)(156.8,9.75)(157.9,9.46)(159.3,10.03)(160.8,10.1)(161.9,8.97)(163.1,9.82)(164.5,10.45)(166,9.5)(167.5,8.97)(169,9.5)(170.5,9.25)(172,9.7)(173.5,9.1)(175,9.25)(176.5,8.41)(178,9.68)(179.5,8.97)(181.3,10.17)(182.7,10.1)(183.9,10.73)(185.1,10.8)(186.2,9.46)(186.9,9.18)(188.1,10.38)(189.6,10.17)(190.6,9.82)(191.8,8.76)(192.9,9.61)(194,9.25)(195.1,9.61)(196.1,9.11)(197.6,10.38)(199.1,9.68)(200,9.11)(201,8.2)(202.1,10.03)(203.3,8.83)(204.5,9.04)(205.5,9.89)(206.5,9.46)(207.7,9.89)(208.9,9.18)(210,9.96)(211.5,10.1)(212.5,9.82)(213.7,10.59)(215.2,9.11)(216.7,10.52)(218.2,9.89)(219.3,10.24)(220.8,9.25)(222.3,8.62)(223.4,9.82)(224.9,10.38)(226.3,9.68)(227.8,9.75)(229.8,10.59)(231.3,9.61)(232.7,9.89)(234.2,9.82)(235.3,10.31)(236.8,10.17)(238.2,10.03)(239.7,10.66)(241.2,9.96)(242.7,10.38)(243.9,8.97)(244.9,8.76)(246.4,9.68)(247.9,10.66)(249.4,10.45)(250.9,11.08)(252.4,10.38)(253.6,9.68)(255.1,9.25)(256.1,10.03)(257.6,9.25)(259.1,8.13)(260.1,8.41)(261.3,8.13)(262.8,9.25)(264,9.89)(265,9.61)(266.1,10.52)(267.6,8.62)(269,9.25)(270.5,9.54)(272,9.54)(273.5,8.2)(275,8.41)(276.5,9.18)(277.7,8.13)(278.9,9.68)(280.7,8.69)(282.1,7.77)(283.6,8.27)(284.8,8.27)(285.9,7.7)(286.9,8.76)(288.1,8.83)(289.6,7.7)(291.1,7.56)(292.3,7.85)(293.3,8.13)(294.8,7.42)(296.3,9.04)(297.8,8.55)(299.3,7.14)(300.7,7.85)(302.2,7.7)(303.7,6.86)(305.2,7.85)(306.7,7.28)(308.2,8.34)(309.7,7.28)(311.6,6.44)(313.4,6.72)(314.9,6.3)(316.4,7.49)(317.9,7.07)(319.3,6.44)(320.8,7.0)(322.3,5.87)(323.8,6.3)(325.3,6.79)(326.8,5.73)(328.3,6.79)(329.8,6.01)(331.3,6.72)(332.7,6.58)(334.2,6.15)(335.7,5.73)(336.9,5.1)(338.4,6.23)(339.9,5.59)(341.4,6.01)(342.9,6.58)(344.3,5.73)(345.8,5.87)(347.3,6.08)(348.8,6.79)(350.3,5.8)(351.8,4.82)(353.3,6.01)(354.8,5.31)(356.3,4.75)(357.7,5.1)(359.2,5.31)(360.3,5.73)};
\node[nm] at (rel axis cs:0.053,0.844) {East Malling};
\end{axis}

\node[rotate=90, font=\fontsize{11.5}{13.8}\selectfont] at (-41pt,-317.5pt) {Mean daily maximum (T\textit{max}) - minimum (T\textit{min}) air temperature (\textsuperscript{o}C)};
\node[font=\fontsize{11.5}{13.8}\selectfont] at (203pt,-701.5pt) {Day of Year};
\end{tikzpicture}
\end{document}
